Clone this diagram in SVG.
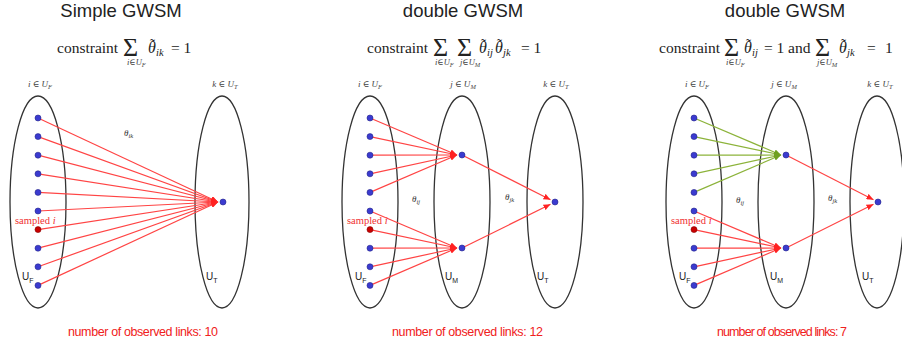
<svg xmlns="http://www.w3.org/2000/svg" width="902" height="345" viewBox="0 0 902 345">
<style>
.title{font-family:"Liberation Sans",Arial,sans-serif;font-size:18.5px;fill:#222}
.m{font-family:"Liberation Serif","DejaVu Serif",serif;font-size:15.5px;fill:#222}
.mi{font-size:16px;font-style:italic}
.ms{font-size:10.5px;font-style:italic}
.tl{font-size:15px;font-style:normal}
.sum{font-size:26px}
.sub{font-size:8.5px;font-style:italic;fill:#444}
.subs{font-size:6.5px;font-style:italic;fill:#444}
.set{font-family:"Liberation Serif","DejaVu Serif",serif;font-size:9px;font-style:italic;fill:#444}
.th{font-family:"Liberation Serif","DejaVu Serif",serif;font-size:9px;font-style:italic;fill:#333}
.samp{font-family:"Liberation Serif","DejaVu Serif",serif;font-size:10.5px;fill:#f03030}
.U{font-family:"Liberation Sans",Arial,sans-serif;font-size:10px;fill:#222}
.cnt{font-family:"Liberation Sans",Arial,sans-serif;font-size:12.5px;fill:#f02020}
.ell{fill:none;stroke:#333;stroke-width:1.3}
.r{stroke:#f44;stroke-width:1.2;fill:none;marker-end:url(#ar)}
.g{stroke:#8cb33a;stroke-width:1.2;fill:none;marker-end:url(#ag)}
.dot{fill:#3b3bd0;stroke:#23238a;stroke-width:0.6}
.rdot{fill:#c80000;stroke:#800;stroke-width:0.6}
</style>
<defs>
<marker id="ar" markerUnits="userSpaceOnUse" markerWidth="7" markerHeight="6" refX="7" refY="3" orient="auto"><path d="M0,0 L7,3 L0,6 z" fill="#f22"/></marker>
<marker id="ag" markerUnits="userSpaceOnUse" markerWidth="7" markerHeight="6" refX="7" refY="3" orient="auto"><path d="M0,0 L7,3 L0,6 z" fill="#6fa020"/></marker>
</defs>

<!-- Panel 1 -->
<g id="panel1-header">
<text class="title" x="121" y="16.5" text-anchor="middle">Simple GWSM</text>
<text class="m" x="57" y="53">constraint<tspan class="sum" x="123" y="56">Σ</tspan><tspan class="sub" x="127" y="65">i∈U</tspan><tspan class="subs" y="66.5">F</tspan><tspan class="mi" x="148" y="53">θ</tspan><tspan class="tl" x="150" y="49">˜</tspan><tspan class="ms" x="156" y="56">ik</tspan><tspan x="171" y="53">= 1</tspan></text>
</g>
<g id="p1-UF">
<ellipse class="ell" cx="38" cy="202" rx="28" ry="106"/>
<text class="set" x="40" y="87" text-anchor="middle">i ∈ U<tspan font-size="6.5" dy="1.5">F</tspan></text>
<text class="U" x="22" y="280">U<tspan font-size="7" dy="3">F</tspan></text>
<text class="samp" x="15" y="224">sampled <tspan font-style="italic">i</tspan></text>
</g>
<g id="p1-UT">
<ellipse class="ell" cx="222" cy="202" rx="27" ry="106"/>
<text class="set" x="225" y="87" text-anchor="middle">k ∈ U<tspan font-size="6.5" dy="1.5">T</tspan></text>
<text class="U" x="206" y="280">U<tspan font-size="7" dy="3">T</tspan></text>
</g>
<g id="p1-connectors">
<line class="r" x1="38" y1="118" x2="218" y2="202"/>
<line class="r" x1="38" y1="136.6" x2="218" y2="202"/>
<line class="r" x1="38" y1="155.2" x2="218" y2="202"/>
<line class="r" x1="38" y1="173.8" x2="218" y2="202"/>
<line class="r" x1="38" y1="192.4" x2="218" y2="202"/>
<line class="r" x1="38" y1="211" x2="218" y2="202"/>
<line class="r" x1="38" y1="229.6" x2="218" y2="202"/>
<line class="r" x1="38" y1="248.2" x2="218" y2="202"/>
<line class="r" x1="38" y1="266.8" x2="218" y2="202"/>
<line class="r" x1="38" y1="285.4" x2="218" y2="202"/>
<text class="th" x="124" y="136">θ<tspan font-size="6.5" dy="1.5">ik</tspan></text>
</g>
<g id="p1-nodes">
<circle class="dot" cx="38" cy="118" r="3"/><circle class="dot" cx="38" cy="136.6" r="3"/>
<circle class="dot" cx="38" cy="155.2" r="3"/><circle class="dot" cx="38" cy="173.8" r="3"/>
<circle class="dot" cx="38" cy="192.4" r="3"/><circle class="dot" cx="38" cy="211" r="3"/>
<circle class="rdot" cx="38" cy="229.6" r="3"/><circle class="dot" cx="38" cy="248.2" r="3"/>
<circle class="dot" cx="38" cy="266.8" r="3"/><circle class="dot" cx="38" cy="285.4" r="3"/>
<circle class="dot" cx="223" cy="202" r="3"/>
</g>
<text class="cnt" x="68" y="336" textLength="150">number of observed links: 10</text>

<!-- Panel 2 -->
<g id="panel2-header">
<text class="title" x="463" y="16.5" text-anchor="middle">double GWSM</text>
<text class="m" x="367" y="53">constraint<tspan class="sum" x="433" y="56">Σ</tspan><tspan class="sum" x="457" y="56">Σ</tspan><tspan class="sub" x="435" y="65">i∈U</tspan><tspan class="subs" y="66.5">F</tspan><tspan class="sub" x="460" y="65">j∈U</tspan><tspan class="subs" y="66.5">M</tspan><tspan class="mi" x="479" y="53">θ</tspan><tspan class="tl" x="481" y="49">˜</tspan><tspan class="ms" x="487" y="56">ij</tspan><tspan class="mi" x="495" y="53">θ</tspan><tspan class="tl" x="497" y="49">˜</tspan><tspan class="ms" x="503" y="56">jk</tspan><tspan x="521" y="53">= 1</tspan></text>
</g>
<g id="p2-UF">
<ellipse class="ell" cx="370" cy="202" rx="28" ry="106"/>
<text class="set" x="370" y="87" text-anchor="middle">i ∈ U<tspan font-size="6.5" dy="1.5">F</tspan></text>
<text class="U" x="355" y="280">U<tspan font-size="7" dy="3">F</tspan></text>
<text class="samp" x="347" y="224">sampled <tspan font-style="italic">i</tspan></text>
</g>
<g id="p2-UM">
<ellipse class="ell" cx="462" cy="202" rx="28" ry="106"/>
<text class="set" x="463" y="87" text-anchor="middle">j ∈ U<tspan font-size="6.5" dy="1.5">M</tspan></text>
<text class="U" x="445" y="280">U<tspan font-size="7" dy="3">M</tspan></text>
</g>
<g id="p2-UT">
<ellipse class="ell" cx="555" cy="202" rx="28" ry="106"/>
<text class="set" x="556" y="87" text-anchor="middle">k ∈ U<tspan font-size="6.5" dy="1.5">T</tspan></text>
<text class="U" x="537" y="280">U<tspan font-size="7" dy="3">T</tspan></text>
</g>
<g id="p2-connectors">
<line class="r" x1="370" y1="118" x2="457" y2="155"/>
<line class="r" x1="370" y1="136.6" x2="457" y2="155"/>
<line class="r" x1="370" y1="155.2" x2="457" y2="155"/>
<line class="r" x1="370" y1="173.8" x2="457" y2="155"/>
<line class="r" x1="370" y1="192.4" x2="457" y2="155"/>
<line class="r" x1="370" y1="211" x2="457" y2="248"/>
<line class="r" x1="370" y1="229.6" x2="457" y2="248"/>
<line class="r" x1="370" y1="248.2" x2="457" y2="248"/>
<line class="r" x1="370" y1="266.8" x2="457" y2="248"/>
<line class="r" x1="370" y1="285.4" x2="457" y2="248"/>
<line class="r" x1="462" y1="155" x2="550.5" y2="199.7"/>
<line class="r" x1="462" y1="248" x2="550.5" y2="204.3"/>
<text class="th" x="412" y="202">θ<tspan font-size="6.5" dy="1.5">ij</tspan></text>
<text class="th" x="505" y="200">θ<tspan font-size="6.5" dy="1.5">jk</tspan></text>
</g>
<g id="p2-nodes">
<circle class="dot" cx="370" cy="118" r="3"/><circle class="dot" cx="370" cy="136.6" r="3"/>
<circle class="dot" cx="370" cy="155.2" r="3"/><circle class="dot" cx="370" cy="173.8" r="3"/>
<circle class="dot" cx="370" cy="192.4" r="3"/><circle class="dot" cx="370" cy="211" r="3"/>
<circle class="rdot" cx="370" cy="229.6" r="3"/><circle class="dot" cx="370" cy="248.2" r="3"/>
<circle class="dot" cx="370" cy="266.8" r="3"/><circle class="dot" cx="370" cy="285.4" r="3"/>
<circle class="dot" cx="462" cy="155" r="3"/><circle class="dot" cx="462" cy="248" r="3"/>
<circle class="dot" cx="555" cy="202" r="3"/>
</g>
<text class="cnt" x="392" y="336" textLength="151">number of observed links: 12</text>

<!-- Panel 3 -->
<g id="panel3-header">
<text class="title" x="785" y="16.5" text-anchor="middle">double GWSM</text>
<text class="m" x="659" y="53">constraint<tspan class="sum" x="724" y="56">Σ</tspan><tspan class="sub" x="726" y="65">i∈U</tspan><tspan class="subs" y="66.5">F</tspan><tspan class="mi" x="744" y="53">θ</tspan><tspan class="tl" x="746" y="49">˜</tspan><tspan class="ms" x="752" y="56">ij</tspan><tspan x="764" y="53">= 1</tspan><tspan x="788" y="53">and</tspan><tspan class="sum" x="815" y="56">Σ</tspan><tspan class="sub" x="817" y="65">j∈U</tspan><tspan class="subs" y="66.5">M</tspan><tspan class="mi" x="839" y="53">θ</tspan><tspan class="tl" x="841" y="49">˜</tspan><tspan class="ms" x="847" y="56">jk</tspan><tspan x="867" y="53">=</tspan><tspan x="885" y="53">1</tspan></text>
</g>
<g id="p3-UF">
<ellipse class="ell" cx="694" cy="202" rx="28" ry="106"/>
<text class="set" x="697" y="87" text-anchor="middle">i ∈ U<tspan font-size="6.5" dy="1.5">F</tspan></text>
<text class="U" x="679" y="280">U<tspan font-size="7" dy="3">F</tspan></text>
<text class="samp" x="671" y="224">sampled <tspan font-style="italic">i</tspan></text>
</g>
<g id="p3-UM">
<ellipse class="ell" cx="786" cy="202" rx="28" ry="106"/>
<text class="set" x="784" y="87" text-anchor="middle">j ∈ U<tspan font-size="6.5" dy="1.5">M</tspan></text>
<text class="U" x="770" y="280">U<tspan font-size="7" dy="3">M</tspan></text>
</g>
<g id="p3-UT">
<ellipse class="ell" cx="877" cy="202" rx="27" ry="106"/>
<text class="set" x="880" y="87" text-anchor="middle">k ∈ U<tspan font-size="6.5" dy="1.5">T</tspan></text>
<text class="U" x="862" y="280">U<tspan font-size="7" dy="3">T</tspan></text>
</g>
<g id="p3-connectors">
<line class="g" x1="694" y1="118" x2="781" y2="155"/>
<line class="g" x1="694" y1="136.6" x2="781" y2="155"/>
<line class="g" x1="694" y1="155.2" x2="781" y2="155"/>
<line class="g" x1="694" y1="173.8" x2="781" y2="155"/>
<line class="g" x1="694" y1="192.4" x2="781" y2="155"/>
<line class="r" x1="694" y1="211" x2="781" y2="248"/>
<line class="r" x1="694" y1="229.6" x2="781" y2="248"/>
<line class="r" x1="694" y1="248.2" x2="781" y2="248"/>
<line class="r" x1="694" y1="266.8" x2="781" y2="248"/>
<line class="r" x1="694" y1="285.4" x2="781" y2="248"/>
<line class="r" x1="786" y1="155" x2="873.5" y2="199.7"/>
<line class="r" x1="786" y1="248" x2="873.5" y2="204.3"/>
<text class="th" x="736" y="203">θ<tspan font-size="6.5" dy="1.5">ij</tspan></text>
<text class="th" x="828" y="201">θ<tspan font-size="6.5" dy="1.5">jk</tspan></text>
</g>
<g id="p3-nodes">
<circle class="dot" cx="694" cy="118" r="3"/><circle class="dot" cx="694" cy="136.6" r="3"/>
<circle class="dot" cx="694" cy="155.2" r="3"/><circle class="dot" cx="694" cy="173.8" r="3"/>
<circle class="dot" cx="694" cy="192.4" r="3"/><circle class="dot" cx="694" cy="211" r="3"/>
<circle class="rdot" cx="694" cy="229.6" r="3"/><circle class="dot" cx="694" cy="248.2" r="3"/>
<circle class="dot" cx="694" cy="266.8" r="3"/><circle class="dot" cx="694" cy="285.4" r="3"/>
<circle class="dot" cx="786" cy="155" r="3"/><circle class="dot" cx="786" cy="248" r="3"/>
<circle class="dot" cx="878" cy="202" r="3"/>
</g>
<text class="cnt" x="717" y="336" textLength="130">number of observed links: 7</text>
</svg>
